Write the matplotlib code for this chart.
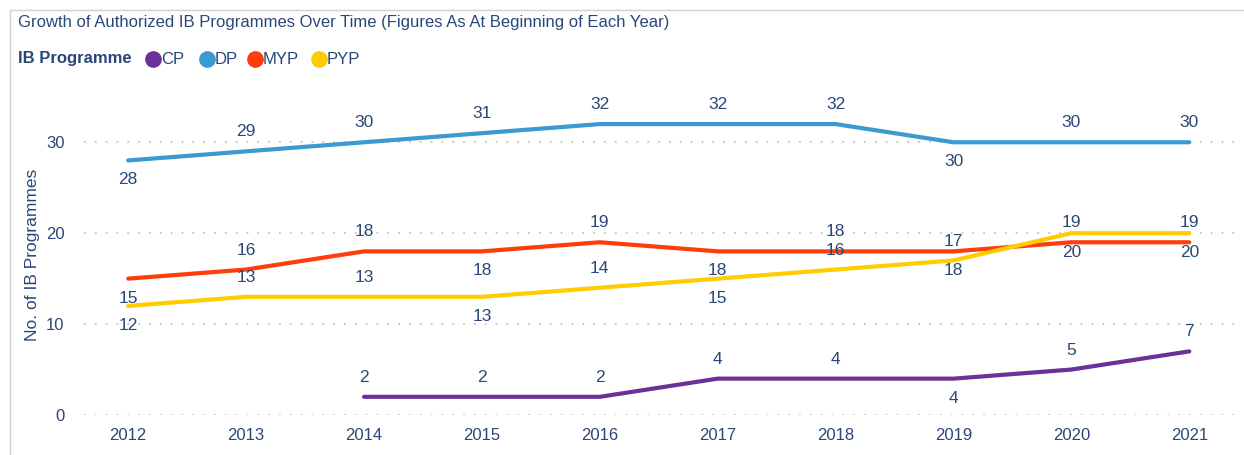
import matplotlib.pyplot as plt
from matplotlib.lines import Line2D

plt.rcParams['font.family'] = ['Liberation Sans', 'DejaVu Sans']

# data
years = ['2012', '2013', '2014', '2015', '2016', '2017', '2018', '2019', '2020', '2021']
dp = [28, 29, 30, 31, 32, 32, 32, 30, 30, 30]
myp = [15, 16, 18, 18, 19, 18, 18, 18, 19, 19]
pyp = [12, 13, 13, 13, 14, 15, 16, 17, 20, 20]
cp = [None, None, 2, 2, 2, 4, 4, 4, 5, 7]

# label placement: 'a' above the line, 'b' below
dp_pos = ['b', 'a', 'a', 'a', 'a', 'a', 'a', 'b', 'a', 'a']
myp_pos = ['b', 'a', 'a', 'b', 'a', 'b', 'a', 'b', 'a', 'a']
pyp_pos = ['b', 'a', 'a', 'b', 'a', 'b', 'a', 'a', 'b', 'b']
cp_pos = [None, None, 'a', 'a', 'a', 'a', 'a', 'b', 'a', 'a']

text_col = '#2a4778'
colors = {'CP': '#6b3099', 'DP': '#3a9ad1', 'MYP': '#ff3c0a', 'PYP': '#ffcc00'}

fig = plt.figure(figsize=(12.44, 4.55), dpi=100)
W, H = 1244, 455
ax = fig.add_axes([84 / W, 1 - 415 / H, (1240 - 84) / W, (415 - 95) / H])

x = list(range(len(years)))
series = [('DP', dp, dp_pos), ('MYP', myp, myp_pos), ('PYP', pyp, pyp_pos), ('CP', cp, cp_pos)]
for name, vals, pos in series:
    xs = [i for i, v in zip(x, vals) if v is not None]
    ys = [v for v in vals if v is not None]
    ax.plot(xs, ys, color=colors[name], lw=3, solid_joinstyle='round',
            solid_capstyle='round', zorder=3)
    for i, v, p in zip(x, vals, pos):
        if v is None:
            continue
        off = 14 if p == 'a' else -14
        ax.annotate(str(v), (i, v), xytext=(0, off), textcoords='offset points',
                    ha='center', va='center', fontsize=12.5, color=text_col, zorder=4)

ax.set_xlim(-0.375, 9.43)
ax.set_ylim(0, 35.2)
ax.set_xticks(x)
ax.set_xticklabels(years)
ax.set_yticks([0, 10, 20, 30])
ax.tick_params(length=0, labelsize=12, colors=text_col, pad=9)
ax.tick_params(axis='y', pad=14)
ax.grid(axis='y', linestyle=(0, (1, 5)), color='#c4c4c4', lw=1.3)
ax.set_axisbelow(True)
for s in ax.spines.values():
    s.set_visible(False)
ax.set_ylabel('No. of IB Programmes', fontsize=12.5, color=text_col, labelpad=4)

# frame lines
fig.add_artist(Line2D([10 / W, 10 / W], [0, 1 - 10 / H], color='#d0d0d0', lw=1))
fig.add_artist(Line2D([10 / W, 1], [1 - 10 / H, 1 - 10 / H], color='#d0d0d0', lw=1))

fig.text(18 / W, 1 - 22 / H, 'Growth of Authorized IB Programmes Over Time (Figures As At Beginning of Each Year)',
         fontsize=12, color=text_col, va='center', ha='left')

# legend
ly = 1 - 59 / H
fig.text(18 / W, ly, 'IB Programme', fontsize=12, fontweight='bold', color=text_col, va='center')
leg_x = [153, 207, 255, 319]
for lx, name in zip(leg_x, ['CP', 'DP', 'MYP', 'PYP']):
    fig.add_artist(Line2D([lx / W], [ly], marker='o', markersize=11, color=colors[name], lw=0))
    fig.text((lx + 8) / W, ly, name, fontsize=12, color=text_col, va='center')

fig.savefig('out.png', dpi=100)
